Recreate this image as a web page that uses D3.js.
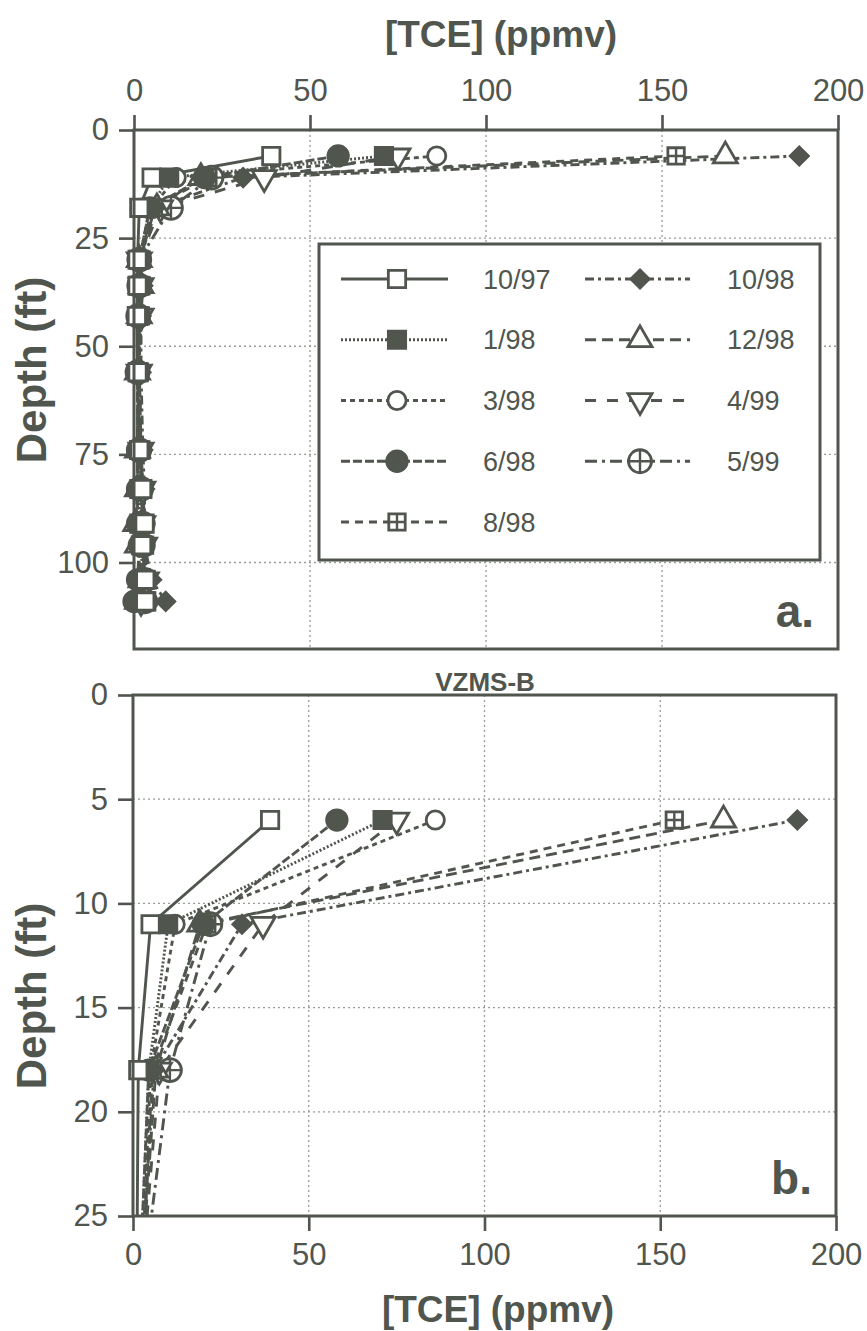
<!DOCTYPE html>
<html>
<head>
<meta charset="utf-8">
<script src="https://cdn.jsdelivr.net/npm/d3@7"></script>
<style>
    body { margin: 0; background: #fff; }
    svg { display: block; }
    text { font-family: "Liberation Sans", Arial, sans-serif; fill: #50554e; }
</style>
</head>
<body>
<div id="chart"></div>
<script>
// Sampling depths (ft) of the VZMS-B soil gas port
const depths = [6, 11, 18, 30, 36, 43, 56, 74, 83, 91, 96, 104, 109];

// [TCE] (ppmv) per sampling date, one value per depth (null = no sample)
const s1097 = [39, 5, 1.5, 1, 1, 0.8, 1, 1.5, 2.3, 3, 2.3, 3.2, 3.2];
const s0198 = [71, 10, 4.5, 1.5, 1.5, 1.2, 1.2, 1.5, 1.5, 1.5, 2, 2.5, 3.5];
const s0398 = [86, 12, 5, 2, 2, 1.5, 1.5, 2, 2, 2, 2.5, 3, 4];
const s0698 = [58, 20, 4.5, 1.5, 1.5, 1.2, 1, 1, 1, 1, 1.5, 1, 0];
const s0898 = [154, 21, 5.5, 2, 2, 1.8, 1.5, 2, 2.5, 3, 3, 3.5, 3.5];
const s1098 = [189, 31, 6, 1.5, 2.5, 2, 2, 2.5, 3, 3, 3, 5, 9];
const s1298 = [168, 19, 6.5, 1.5, 2, 1.5, 1, 1, 1, 0.5, 1, 2, 1];
const s0499 = [75, 37, 7.5, 1.5, 2, 2, 1.5, 2, 2.5, 2.5, 3, 3.5, 2];
const s0599 = [null, 22, 10.5, 1.5, 1.5, 1.2, 1, 1.5, 2, 2.5, 2.5, 3, 3];

const seriesNames = ["10/97", "1/98", "3/98", "6/98", "8/98", "10/98", "12/98", "4/99", "5/99"];
const seriesValues = [s1097, s0198, s0398, s0698, s0898, s1098, s1298, s0499, s0599];

const xTicks = [0, 50, 100, 150, 200];
const yTicksTop = [0, 25, 50, 75, 100];
const yTicksBottom = [0, 5, 10, 15, 20, 25];

const INK = "#50554e";
const GRID = "#9a9c98";

// line style and marker for each date
const styles = {
    "10/97": { dash: null, marker: "square", fill: false },
    "1/98": { dash: "2,2", marker: "square", fill: true },
    "3/98": { dash: "5,4", marker: "circle", fill: false },
    "6/98": { dash: "9,3", marker: "circle", fill: true },
    "8/98": { dash: "8,6", marker: "sqplus", fill: false },
    "10/98": { dash: "9,4,3,4", marker: "diamond", fill: true },
    "12/98": { dash: "11,6", marker: "triangle", fill: false },
    "4/99": { dash: "11,11", marker: "tridown", fill: false },
    "5/99": { dash: "12,5,3,5", marker: "cplus", fill: false }
};

const series = seriesNames.map((name, i) => ({
    name,
    points: depths.map((d, j) => ({ depth: d, value: seriesValues[i][j] })).filter(p => p.value !== null)
}));

const width = 867, height = 1331;
const svg = d3.select("#chart").append("svg").attr("width", width).attr("height", height);

function drawMarker(g, type, filled) {
    const fill = filled ? INK : "#fff";
    const sw = 2.8;
    if (type === "square") {
        g.append("path").attr("d", d3.symbol(d3.symbolSquare, 300)()).attr("fill", fill).attr("stroke", INK).attr("stroke-width", sw);
    } else if (type === "circle") {
        g.append("path").attr("d", d3.symbol(d3.symbolCircle, filled ? 330 : 260)()).attr("fill", fill).attr("stroke", INK).attr("stroke-width", sw);
    } else if (type === "diamond") {
        g.append("path").attr("d", d3.symbol(d3.symbolSquare, 200)()).attr("transform", "rotate(45)")
            .attr("fill", fill).attr("stroke", INK).attr("stroke-width", 1.5);
    } else if (type === "triangle" || type === "tridown") {
        g.append("path").attr("d", d3.symbol(d3.symbolTriangle, 250)())
            .attr("transform", type === "tridown" ? "rotate(180)" : null)
            .attr("fill", fill).attr("stroke", INK).attr("stroke-width", sw);
    } else if (type === "sqplus") {
        g.append("path").attr("d", d3.symbol(d3.symbolSquare, 270)()).attr("fill", "#fff").attr("stroke", INK).attr("stroke-width", sw);
        g.append("path").attr("d", "M-8.2,0H8.2M0,-8.2V8.2").attr("stroke", INK).attr("stroke-width", 2.4);
    } else if (type === "cplus") {
        g.append("circle").attr("r", 11.5).attr("fill", "#fff").attr("stroke", INK).attr("stroke-width", sw);
        g.append("path").attr("d", "M-11.5,0H11.5M0,-11.5V11.5").attr("stroke", INK).attr("stroke-width", 2.4);
    }
}

function drawPanel(cfg) {
    const x = d3.scaleLinear().domain([0, 200]).range([cfg.left, cfg.right]);
    const y = d3.scaleLinear().domain(cfg.yDomain).range([cfg.top, cfg.bottom]);
    const g = svg.append("g");

    // --- Grid ---
    g.append("g").selectAll("line").data(xTicks.slice(1, -1)).join("line")
        .attr("x1", d => x(d)).attr("x2", d => x(d)).attr("y1", cfg.top).attr("y2", cfg.bottom)
        .attr("stroke", GRID).attr("stroke-width", 1.3).attr("stroke-dasharray", "2,3");
    g.append("g").selectAll("line").data(cfg.yTicks.slice(1).filter(d => d < cfg.yDomain[1])).join("line")
        .attr("x1", cfg.left).attr("x2", cfg.right).attr("y1", d => y(d)).attr("y2", d => y(d))
        .attr("stroke", GRID).attr("stroke-width", 1.3).attr("stroke-dasharray", "2,3");

    if (cfg.legend) drawLegend(g);

    // --- Axes ---
    const xAxis = (cfg.xAxisTop ? d3.axisTop(x) : d3.axisBottom(x))
        .tickValues(xTicks).tickSize(15).tickPadding(cfg.xAxisTop ? 14 : 12);
    const gx = g.append("g").attr("transform", `translate(0,${cfg.xAxisTop ? cfg.top : cfg.bottom})`).call(xAxis);
    const gy = g.append("g").attr("transform", `translate(${cfg.left},0)`)
        .call(d3.axisLeft(y).tickValues(cfg.yTicks).tickSize(15).tickPadding(10));
    [gx, gy].forEach(a => {
        a.select(".domain").remove();
        a.selectAll(".tick line").attr("stroke", INK).attr("stroke-width", 2.6);
        a.selectAll(".tick text").attr("fill", "#585d56").style("font-size", "31px");
    });

    // --- Data ---
    const clipId = "clip-" + cfg.id;
    svg.append("clipPath").attr("id", clipId).append("rect")
        .attr("x", 0).attr("y", cfg.top).attr("width", width).attr("height", cfg.bottom - cfg.top);

    const line = d3.line().x(p => x(p.value)).y(p => y(p.depth));
    g.append("g").attr("clip-path", `url(#${clipId})`).selectAll("path").data(series).join("path")
        .attr("d", s => line(s.points))
        .attr("fill", "none").attr("stroke", INK).attr("stroke-width", 2.9)
        .attr("stroke-dasharray", s => styles[s.name].dash);

    const mg = g.append("g");
    series.slice().reverse().forEach(s => {
        s.points.filter(p => p.depth <= cfg.yDomain[1]).forEach(p => {
            const m = mg.append("g").attr("transform", `translate(${x(p.value)},${y(p.depth)})`);
            drawMarker(m, styles[s.name].marker, styles[s.name].fill);
        });
    });

    // --- Frame ---
    g.append("rect").attr("x", cfg.left).attr("y", cfg.top)
        .attr("width", cfg.right - cfg.left).attr("height", cfg.bottom - cfg.top)
        .attr("fill", "none").attr("stroke", INK).attr("stroke-width", 3);

    // --- Labels ---
    g.append("text").attr("transform", `translate(46,${cfg.depthLabelY}) rotate(-90)`)
        .attr("text-anchor", "middle").style("font-size", "42px").style("font-weight", "bold")
        .text("Depth (ft)");
    g.append("text").attr("x", cfg.right - 24).attr("y", cfg.bottom - 22)
        .attr("text-anchor", "end").style("font-size", "46px").style("font-weight", "bold")
        .text(cfg.tag);
}

function drawLegend(g) {
    const box = { x: 319, y: 244, w: 501, h: 316 };
    const rowY = d3.scalePoint().domain(d3.range(5)).range([box.y + 35, box.y + 278]);
    const cols = [
        { lineX: [341, 448], markX: 397, textX: 483 },
        { lineX: [585, 690], markX: 640, textX: 727 }
    ];
    g.append("rect").attr("x", box.x).attr("y", box.y).attr("width", box.w).attr("height", box.h)
        .attr("fill", "#fff").attr("stroke", INK).attr("stroke-width", 3);
    seriesNames.forEach((name, i) => {
        const c = cols[i < 5 ? 0 : 1];
        const yy = rowY(i < 5 ? i : i - 5);
        g.append("line").attr("x1", c.lineX[0]).attr("x2", c.lineX[1]).attr("y1", yy).attr("y2", yy)
            .attr("stroke", INK).attr("stroke-width", 2.9).attr("stroke-dasharray", styles[name].dash);
        const m = g.append("g").attr("transform", `translate(${c.markX},${yy})`);
        drawMarker(m, styles[name].marker, styles[name].fill);
        g.append("text").attr("x", c.textX).attr("y", yy).attr("dy", "0.36em")
            .style("font-size", "27px").text(name);
    });
}

drawPanel({ id: "a", left: 134, right: 838, top: 130, bottom: 649, yDomain: [0, 120], yTicks: yTicksTop,
    xAxisTop: true, legend: true, tag: "a.", depthLabelY: 370 });
drawPanel({ id: "b", left: 133, right: 836, top: 695, bottom: 1216, yDomain: [0, 25], yTicks: yTicksBottom,
    xAxisTop: false, legend: false, tag: "b.", depthLabelY: 996 });

// --- Titles ---
svg.append("text").attr("x", 501).attr("y", 47).attr("text-anchor", "middle")
    .style("font-size", "37px").style("font-weight", "bold").text("[TCE] (ppmv)");
svg.append("text").attr("x", 498).attr("y", 1322).attr("text-anchor", "middle")
    .style("font-size", "37px").style("font-weight", "bold").text("[TCE] (ppmv)");
svg.append("text").attr("x", 485).attr("y", 691).attr("text-anchor", "middle")
    .style("font-size", "26px").style("font-weight", "bold").text("VZMS-B");
</script>
</body>
</html>
